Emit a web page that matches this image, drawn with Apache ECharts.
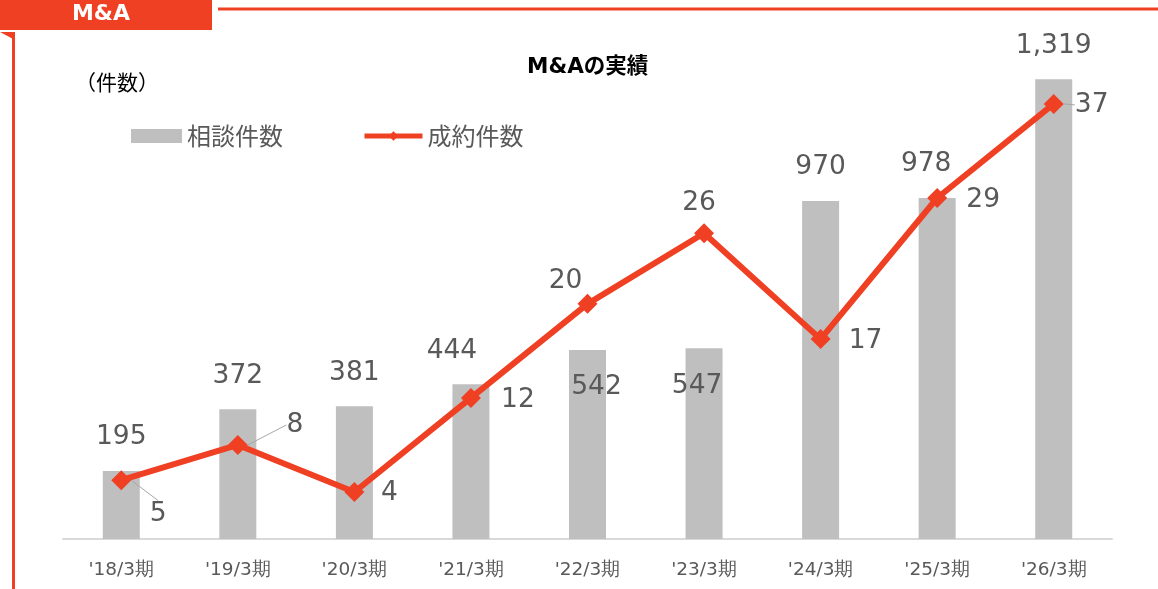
<!DOCTYPE html>
<html>
<head>
<meta charset="utf-8">
<script src="https://cdn.jsdelivr.net/npm/echarts@6/dist/echarts.min.js"></script>
<style>
  html, body { margin: 0; padding: 0; background: #fff; }
  #main { width: 1158px; height: 589px; }
</style>
</head>
<body>
<div id="main"></div>
<script>
// データ
var categories = ["'18/3期", "'19/3期", "'20/3期", "'21/3期", "'22/3期", "'23/3期", "'24/3期", "'25/3期", "'26/3期"];
var consultCounts = [195, 372, 381, 444, 542, 547, 970, 978, 1319];
var dealCounts = [5, 8, 4, 12, 20, 26, 17, 29, 37];

// ラベル位置の調整（px）
var barLabelShift = [0, 0, 0, -19, 9, -7, 0, -11, 0];
var lineLabelShift = [[37, 34], [57, -20], [35, 1], [47, 2], [-22, -23], [-5, -30], [45, 2], [46, 2], [38, 1]];
var withGuide = [0, 1, 8];

var RED = '#f04023';
var FONT = '"DejaVu Sans", Verdana, sans-serif';
var JP = '"Noto Sans CJK JP", sans-serif';

var myChart = echarts.init(document.getElementById('main'));

var barData = consultCounts.map(function (v, i) {
  var inside = (i === 4 || i === 5);
  return {
    value: v,
    label: {
      position: inside ? 'insideTop' : 'top',
      distance: inside ? 24 : 20,
      offset: [barLabelShift[i], 0]
    }
  };
});

var lineData = dealCounts.map(function (v, i) {
  return {
    value: v,
    labelLine: { show: withGuide.indexOf(i) >= 0 }
  };
});

var legendText = { fontFamily: JP, fontSize: 24, color: '#595959' };

myChart.setOption({
  animation: false,
  title: {
    text: 'M&Aの実績',
    left: 522,
    top: 52,
    textStyle: { fontFamily: '"DejaVu Sans", "Noto Sans CJK JP", sans-serif', fontSize: 21.5, fontWeight: 'bold', color: '#000' }
  },
  legend: [
    {
      left: 131, top: 124, padding: 0,
      itemWidth: 51, itemHeight: 14, itemGap: 0,
      textStyle: legendText,
      data: [{ name: '相談件数', icon: 'rect' }]
    },
    {
      left: 362, top: 124, padding: 0,
      itemWidth: 58, itemHeight: 12, itemGap: 0,
      textStyle: legendText,
      lineStyle: { width: 5, color: RED },
      data: [{ name: '成約件数' }]
    }
  ],
  grid: { left: 63, right: 46, top: 51, bottom: 50 },
  xAxis: {
    type: 'category',
    data: categories,
    axisLine: { lineStyle: { color: '#d9d9d9', width: 2 } },
    axisTick: { show: false },
    axisLabel: { fontFamily: FONT, fontSize: 18.5, color: '#595959', margin: 22 }
  },
  yAxis: [
    { type: 'value', min: 0, max: 1400, show: false, splitLine: { show: false } },
    { type: 'value', min: 0, max: 41.5, show: false, splitLine: { show: false } }
  ],
  graphic: [
    { type: 'rect', left: 0, top: 0, shape: { width: 212, height: 30 }, style: { fill: RED } },
    { type: 'text', x: 101, y: 14, style: { text: 'M&A', fill: '#fff', align: 'center', verticalAlign: 'middle', font: 'bold 22px "DejaVu Sans", Verdana, sans-serif' } },
    { type: 'line', shape: { x1: 218, y1: 9, x2: 1158, y2: 9 }, style: { stroke: RED, lineWidth: 3 } },
    { type: 'polygon', shape: { points: [[0, 32], [15, 32], [15, 40]] }, style: { fill: RED } },
    { type: 'line', shape: { x1: 13.5, y1: 32, x2: 13.5, y2: 589 }, style: { stroke: RED, lineWidth: 3 } },
    { type: 'text', left: 75, top: 72, style: { text: '（件数）', fill: '#000', font: '21px "Noto Sans CJK JP", sans-serif' } }
  ],
  series: [
    {
      name: '相談件数',
      type: 'bar',
      data: barData,
      barWidth: 37,
      itemStyle: { color: '#bfbfbf' },
      label: {
        show: true,
        fontFamily: FONT,
        fontSize: 26.5,
        color: '#595959',
        formatter: function (p) { return p.value.toLocaleString('en-US'); }
      }
    },
    {
      name: '成約件数',
      type: 'line',
      yAxisIndex: 1,
      data: lineData,
      symbol: 'diamond',
      symbolSize: 20,
      lineStyle: { color: RED, width: 6 },
      itemStyle: { color: RED },
      z: 5,
      label: {
        show: true,
        position: 'inside',
        fontFamily: FONT,
        fontSize: 26.5,
        color: '#595959'
      },
      labelLine: { lineStyle: { color: '#a6a6a6', width: 1 } },
      labelLayout: function (p) {
        var s = lineLabelShift[p.dataIndex];
        return { dx: s[0], dy: s[1] };
      }
    }
  ]
});
</script>
</body>
</html>
